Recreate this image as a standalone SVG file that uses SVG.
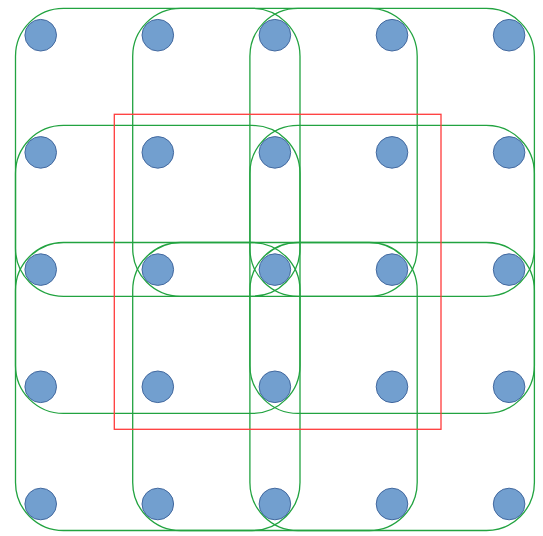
<svg xmlns="http://www.w3.org/2000/svg" width="543" height="536" viewBox="0 0 543 536">
<style>
.win{fill:none;stroke:#22a340;stroke-width:1.3}
.field{fill:none;stroke:#ff3b3b;stroke-width:1.3}
.n{fill:#729fcf;stroke:#43699f;stroke-width:1}
</style>
<rect width="543" height="536" fill="#ffffff"/>
<g id="windows">
<g id="win-r0-c0"><rect class="win" x="15.5" y="8.3" width="284.5" height="288" rx="48" ry="48"/></g>
<g id="win-r0-c1"><rect class="win" x="132.7" y="8.3" width="284.5" height="288" rx="48" ry="48"/></g>
<g id="win-r0-c2"><rect class="win" x="249.9" y="8.3" width="284.5" height="288" rx="48" ry="48"/></g>
<g id="win-r1-c0"><rect class="win" x="15.5" y="125.4" width="284.5" height="288" rx="48" ry="48"/></g>
<g id="win-r1-c2"><rect class="win" x="249.9" y="125.4" width="284.5" height="288" rx="48" ry="48"/></g>
<g id="win-r2-c0"><rect class="win" x="15.5" y="242.5" width="284.5" height="288" rx="48" ry="48"/></g>
<g id="win-r2-c1"><rect class="win" x="132.7" y="242.5" width="284.5" height="288" rx="48" ry="48"/></g>
<g id="win-r2-c2"><rect class="win" x="249.9" y="242.5" width="284.5" height="288" rx="48" ry="48"/></g>
</g>
<g id="field"><rect class="field" x="114.3" y="114.3" width="326.7" height="315"/></g>
<g id="nodes">
<g id="n00"><circle class="n" cx="40.7" cy="35.2" r="15.8"/></g>
<g id="n01"><circle class="n" cx="157.8" cy="35.2" r="15.8"/></g>
<g id="n02"><circle class="n" cx="274.9" cy="35.2" r="15.8"/></g>
<g id="n03"><circle class="n" cx="392" cy="35.2" r="15.8"/></g>
<g id="n04"><circle class="n" cx="509.1" cy="35.2" r="15.8"/></g>
<g id="n10"><circle class="n" cx="40.7" cy="152.4" r="15.8"/></g>
<g id="n11"><circle class="n" cx="157.8" cy="152.4" r="15.8"/></g>
<g id="n12"><circle class="n" cx="274.9" cy="152.4" r="15.8"/></g>
<g id="n13"><circle class="n" cx="392" cy="152.4" r="15.8"/></g>
<g id="n14"><circle class="n" cx="509.1" cy="152.4" r="15.8"/></g>
<g id="n20"><circle class="n" cx="40.7" cy="269.6" r="15.8"/></g>
<g id="n21"><circle class="n" cx="157.8" cy="269.6" r="15.8"/></g>
<g id="n22"><circle class="n" cx="274.9" cy="269.6" r="15.8"/></g>
<g id="n23"><circle class="n" cx="392" cy="269.6" r="15.8"/></g>
<g id="n24"><circle class="n" cx="509.1" cy="269.6" r="15.8"/></g>
<g id="n30"><circle class="n" cx="40.7" cy="386.8" r="15.8"/></g>
<g id="n31"><circle class="n" cx="157.8" cy="386.8" r="15.8"/></g>
<g id="n32"><circle class="n" cx="274.9" cy="386.8" r="15.8"/></g>
<g id="n33"><circle class="n" cx="392" cy="386.8" r="15.8"/></g>
<g id="n34"><circle class="n" cx="509.1" cy="386.8" r="15.8"/></g>
<g id="n40"><circle class="n" cx="40.7" cy="504" r="15.8"/></g>
<g id="n41"><circle class="n" cx="157.8" cy="504" r="15.8"/></g>
<g id="n42"><circle class="n" cx="274.9" cy="504" r="15.8"/></g>
<g id="n43"><circle class="n" cx="392" cy="504" r="15.8"/></g>
<g id="n44"><circle class="n" cx="509.1" cy="504" r="15.8"/></g>
</g>
</svg>
